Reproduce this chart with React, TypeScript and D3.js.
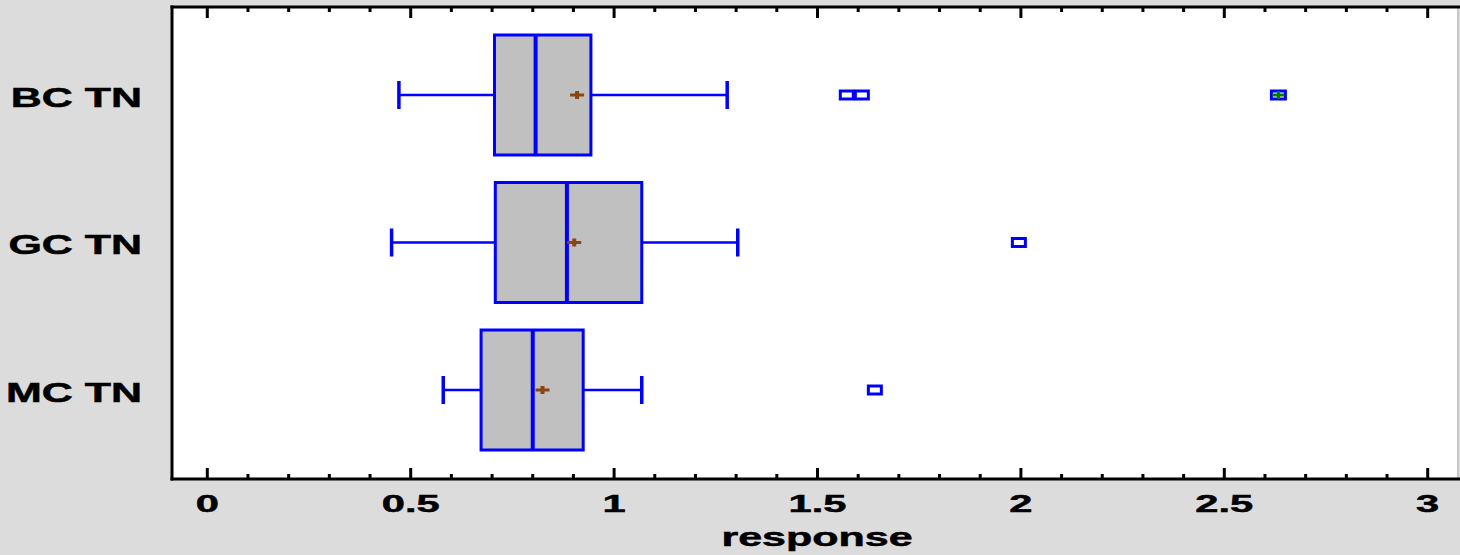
import React from "react";
import * as d3 from "d3";

const categories = ["BC TN", "GC TN", "MC TN"];
const q1 = [0.706, 0.708, 0.673];
const median = [0.807, 0.884, 0.800];
const q3 = [0.943, 1.068, 0.924];
const whiskerLow = [0.471, 0.453, 0.580];
const whiskerHigh = [1.278, 1.304, 1.068];
const means = [0.909, 0.902, 0.824];
const outliers: number[][] = [[1.572, 1.609], [1.995], [1.641]];
const farOutliers: number[][] = [[2.633], [], []];
const xTicks = [0, 0.5, 1, 1.5, 2, 2.5, 3];
const xTickLabels = ["0", "0.5", "1", "1.5", "2", "2.5", "3"];
const minorTicks = d3.range(0, 31).map((i) => i / 10);

const W = 1460;
const H = 555;
const left = 172;
const right = 1457;
const top = 7;
const bottom = 479;

export default function App() {
  const x = d3.scaleLinear().domain([0, 3]).range([207.3, 1427.7]);
  const y = d3.scalePoint().domain(categories).range([95, 390]);
  const halfH = 60;
  const capH = 14;
  const blue = "#0000ff";
  const font = "'Liberation Sans', Arial, sans-serif";

  return (
    <svg
      width={W}
      height={H}
      style={{ position: "absolute", left: 0, top: 0, display: "block" }}
    >
      <rect x={0} y={0} width={W} height={H} fill="#dcdcdc" />
      <rect x={left} y={top} width={right - left} height={bottom - top} fill="#ffffff" />
      <line x1={right + 1} x2={right + 1} y1={top} y2={bottom} stroke="#c8c8c8" strokeWidth={2} />

      {/* ticks */}
      {minorTicks.map((t, i) => {
        const major = i % 5 === 0;
        const len = major ? 11 : 5;
        return (
          <g key={"t" + i}>
            <line x1={x(t)} x2={x(t)} y1={bottom} y2={bottom - len} stroke="#000" strokeWidth={3} />
            <line x1={x(t)} x2={x(t)} y1={top} y2={top + len} stroke="#000" strokeWidth={3} />
          </g>
        );
      })}

      {/* frame */}
      <line x1={left - 1.5} x2={W} y1={top} y2={top} stroke="#000" strokeWidth={3} />
      <line x1={left - 1.5} x2={W} y1={bottom} y2={bottom} stroke="#000" strokeWidth={3} />
      <line x1={left} x2={left} y1={top - 1.5} y2={bottom + 1.5} stroke="#000" strokeWidth={3} />

      {/* tick labels */}
      {xTicks.map((t, i) => (
        <text
          key={"l" + i}
          transform={`translate(${x(t)},512) scale(1.7,1)`}
          textAnchor="middle"
          fontFamily={font}
          fontWeight="bold"
          fontSize={24.5}
          fill="#000"
          stroke="#000"
          strokeWidth={0.5}
        >
          {xTickLabels[i]}
        </text>
      ))}
      <text
        transform={`translate(817,546) scale(1.72,1)`}
        textAnchor="middle"
        fontFamily={font}
        fontWeight="bold"
        fontSize={25}
        fill="#000"
        stroke="#000"
        strokeWidth={0.5}
      >
        response
      </text>

      {categories.map((c, i) => {
        const cy = y(c)!;
        return (
          <g key={c}>
            <text
              transform={`translate(142,${cy + 11.7}) scale(1.59,1)`}
              textAnchor="end"
              fontFamily={font}
              fontWeight="bold"
              fontSize={27}
              fill="#000"
              stroke="#000"
              strokeWidth={0.5}
            >
              {c}
            </text>
            {/* whiskers */}
            <line x1={x(whiskerLow[i])} x2={x(q1[i])} y1={cy} y2={cy} stroke={blue} strokeWidth={2.5} />
            <line x1={x(q3[i])} x2={x(whiskerHigh[i])} y1={cy} y2={cy} stroke={blue} strokeWidth={2.5} />
            <line x1={x(whiskerLow[i])} x2={x(whiskerLow[i])} y1={cy - capH} y2={cy + capH} stroke={blue} strokeWidth={3.5} />
            <line x1={x(whiskerHigh[i])} x2={x(whiskerHigh[i])} y1={cy - capH} y2={cy + capH} stroke={blue} strokeWidth={3.5} />
            {/* box */}
            <rect
              x={x(q1[i])}
              y={cy - halfH}
              width={x(q3[i]) - x(q1[i])}
              height={2 * halfH}
              fill="#c0c0c0"
              stroke={blue}
              strokeWidth={3}
            />
            <line x1={x(median[i])} x2={x(median[i])} y1={cy - halfH} y2={cy + halfH} stroke={blue} strokeWidth={4} />
            {/* mean */}
            <line x1={x(means[i]) - 7} x2={x(means[i]) + 7} y1={cy} y2={cy} stroke="#8b4513" strokeWidth={3} />
            <line x1={x(means[i])} x2={x(means[i])} y1={cy - 4} y2={cy + 4} stroke="#8b4513" strokeWidth={4} />
            {/* outliers */}
            {outliers[i].map((o, j) => (
              <rect key={"o" + j} x={x(o) - 6.5} y={cy - 4} width={13} height={8} fill="#ffffff" stroke={blue} strokeWidth={3} />
            ))}
            {farOutliers[i].map((o, j) => (
              <g key={"f" + j}>
                <rect x={x(o) - 7} y={cy - 4} width={14} height={8} fill="#ffffff" stroke={blue} strokeWidth={3} />
                <line x1={x(o) - 6} x2={x(o) + 6} y1={cy} y2={cy} stroke="#008000" strokeWidth={3} />
                <line x1={x(o)} x2={x(o)} y1={cy - 4} y2={cy + 4} stroke="#008000" strokeWidth={3} />
              </g>
            ))}
          </g>
        );
      })}
    </svg>
  );
}
